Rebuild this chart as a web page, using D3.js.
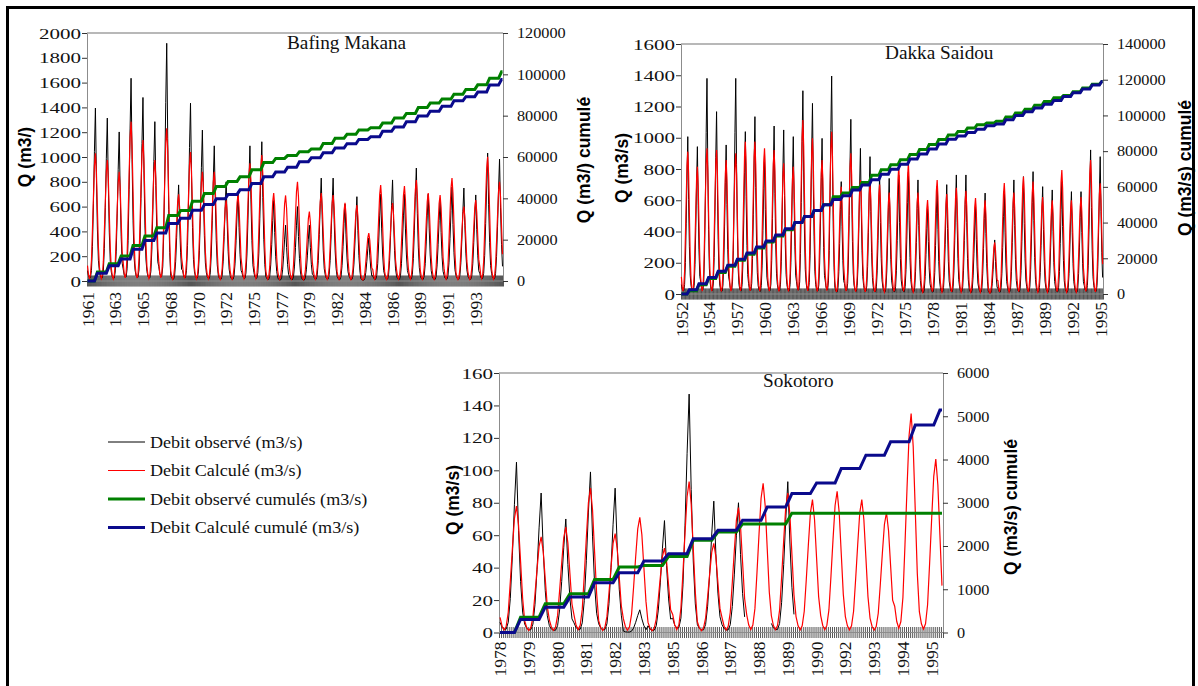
<!DOCTYPE html>
<html>
<head>
<meta charset="utf-8">
<script src="https://cdn.jsdelivr.net/npm/d3@7/dist/d3.min.js"></script>
<style>
  body { margin: 0; background: #fff; }
  text { font-family: 'Liberation Serif', 'Times New Roman', serif; fill: #111; }
  .axis-title { font-family: 'Liberation Sans', Arial, sans-serif; font-weight: bold; font-size: 17.5px; fill: #000; }
</style>
</head>
<body>
<svg id="chart" width="1198" height="686"></svg>
<script>
const bafingObsPeaks = [1395, 1314, 1202, 1635, 1480, 1285, 1917, 775, 1434, 1217,
  1090, 800, 720, 1090, 1123, 650, 450, 600, 450, 830,
  830, 620, 680, 347, 700, 815, 700, 911, 700, 650,
  758, 750, 694, 1032, 983];
const bafingCalcPeaks = [1030, 975, 880, 1285, 1137, 975, 1232, 700, 1040, 880,
  880, 650, 700, 950, 1016, 710, 690, 800, 560, 710,
  694, 630, 613, 387, 774, 629, 766, 815, 710, 694,
  830, 600, 653, 1002, 800];
// cumulated discharge at the end of each year (right axis)
const bafingObsCum = [4300, 8400, 12100, 17200, 21800, 25800, 31700, 34100, 38600, 42300,
  45700, 48200, 50400, 53800, 57300, 59300, 60700, 62600, 63900, 66500,
  69100, 71000, 73100, 74200, 76400, 78900, 81100, 83900, 86100, 88100,
  90400, 92700, 94900, 98100, 101200];
const bafingCalcCum = [3800, 7400, 10700, 15400, 19600, 23200, 27800, 30400, 34200, 37000,
  39800, 41900, 44100, 47200, 50400, 52700, 55000, 57700, 59600, 62000,
  64300, 66400, 68500, 69800, 72400, 74500, 77000, 79800, 82100, 84500,
  87200, 89200, 91400, 94800, 97500];
const bafingLabels = ['1961', '1963', '1965', '1968', '1970', '1972', '1975', '1977',
  '1979', '1982', '1984', '1986', '1989', '1991', '1993'];

const dakkaObsPeaks = [1007, 943, 1380, 1167, 954, 1380, 1039, 1135, 900, 1075,
  1050, 1007, 1301, 1220, 996, 1395, 719, 1118, 932, 879,
  762, 740, 760, 780, 730, 560, 690, 700, 762, 762,
  580, 646, 346, 660, 730, 751, 783, 687, 666, 720,
  655, 655, 922, 879];
const dakkaCalcPeaks = [911, 815, 932, 922, 858, 900, 975, 975, 932, 922,
  836, 815, 1114, 996, 858, 1039, 687, 900, 730, 708,
  700, 650, 815, 836, 650, 602, 730, 640, 680, 660,
  614, 600, 330, 710, 650, 751, 720, 620, 600, 794,
  600, 620, 858, 708];
const dakkaObsCum = [1800, 5200, 8700, 12100, 15500, 18900, 22300, 25700, 29100, 32500,
  36000, 40000, 43400, 46800, 50000, 54400, 56500, 59700, 62500, 66500,
  69600, 72400, 75200, 78100, 80900, 83700, 86500, 89100, 91000, 92900,
  94800, 95700, 96700, 99100, 101400, 103500, 105700, 107800, 109900, 111100,
  113200, 115300, 117500, 119000];
const dakkaCalcCum = [2400, 5800, 9300, 12700, 16100, 19500, 22900, 26300, 29700, 33100,
  36600, 40000, 43400, 46800, 50000, 52900, 55000, 58200, 61000, 64000,
  67100, 69900, 72700, 75600, 78400, 81200, 84000, 86600, 88500, 90400,
  92300, 94200, 95200, 97600, 99900, 102000, 104200, 106300, 108400, 110600,
  112700, 114800, 117000, 119000];
const dakkaLabels = ['1952', '1954', '1957', '1960', '1963', '1966', '1969', '1972',
  '1975', '1978', '1981', '1984', '1987', '1989', '1992', '1995'];

const sokotoroObsPeaks = [105, 86, 70, 99, 89, 14, 69, 147, 81, 80, null, 93,
  null, null, null, null, null, null];
const sokotoroCalcPeaks = [78, 59, 65, 89, 61, 71, 52, 93, 55, 77, 92, 86,
  82, 87, 82, 74, 135, 107];
const sokotoroObsCum = [354, 665, 896, 1228, 1513, 1552, 1760, 2131, 2323, 2510, 2510, 2760,
  2760, 2760, 2760, 2760, 2760, 2760];
const sokotoroCalcCum = [301, 586, 818, 1151, 1383, 1652, 1823, 2170, 2363, 2594, 2903, 3213,
  3459, 3791, 4100, 4408, 4795, 5142];
const sokotoroLabels = ['1978', '1979', '1980', '1981', '1982', '1983', '1985', '1986',
  '1987', '1988', '1989', '1990', '1992', '1993', '1994', '1995'];

// monthly share of the annual peak, Jan..Dec
const obsRegime = [0.06, 0.03, 0.02, 0.02, 0.06, 0.2, 0.45, 0.75, 1, 0.6, 0.3, 0.12];
const calcRegime = [0.12, 0.05, 0.02, 0.05, 0.16, 0.4, 0.66, 0.9, 1, 0.85, 0.56, 0.27];

const legendItems = ['Debit observé (m3/s)', 'Debit Calculé (m3/s)',
  'Debit observé cumulés (m3/s)', 'Debit Calculé cumulé (m3/s)'];

const colors = { obs: '#000000', calc: '#ff0000', obsCum: '#008000', calcCum: '#0a0a8c' };

const svg = d3.select('#chart');

svg.append('rect')
  .attr('x', 7.5).attr('y', 7.5)
  .attr('width', 1186).attr('height', 700)
  .attr('fill', 'none').attr('stroke', '#000').attr('stroke-width', 3);

const panels = [
  {
    title: 'Bafing Makana', obsPeaks: bafingObsPeaks, calcPeaks: bafingCalcPeaks,
    obsCum: bafingObsCum, calcCum: bafingCalcCum, labels: bafingLabels, labelStep: 28,
    x0: 87, x1: 503, yTop: 33, yBot: 281, yMax: 2000, yStep: 200, y2Max: 120000, y2Step: 20000,
    titlePos: [287, 49], labelGap: 11,
    yTitle: 'Q (m3/)', yTitlePos: [25, 157], y2Title: 'Q (m3/) cumulé', y2TitlePos: [584, 160],
  },
  {
    title: 'Dakka Saidou', obsPeaks: dakkaObsPeaks, calcPeaks: dakkaCalcPeaks,
    obsCum: dakkaObsCum, calcCum: dakkaCalcCum, labels: dakkaLabels, labelStep: 35,
    x0: 681, x1: 1103, yTop: 44, yBot: 294, yMax: 1600, yStep: 200, y2Max: 140000, y2Step: 20000,
    titlePos: [885, 59], labelGap: 8,
    yTitle: 'Q (m3/s)', yTitlePos: [622, 168], y2Title: 'Q (m3/s) cumulé', y2TitlePos: [1185, 168],
  },
  {
    title: 'Sokotoro', obsPeaks: sokotoroObsPeaks, calcPeaks: sokotoroCalcPeaks,
    obsCum: sokotoroObsCum, calcCum: sokotoroCalcCum, labels: sokotoroLabels, labelStep: 14,
    x0: 499, x1: 943, yTop: 373, yBot: 632.5, yMax: 160, yStep: 20, y2Max: 6000, y2Step: 1000,
    titlePos: [763, 387], labelGap: 9,
    yTitle: 'Q (m3/s)', yTitlePos: [453, 500], y2Title: 'Q (m3/s) cumulé', y2TitlePos: [1011, 507],
  },
];

const monthly = (peaks, regime) =>
  peaks.flatMap((pk) => regime.map((r) => (pk == null ? null : pk * r)));

// flat through the dry season, rising Aug -> Nov
const cumPoints = (cum) => {
  const pts = [[0, 0]];
  cum.forEach((v, i) => {
    pts.push([i * 12 + 7, i ? cum[i - 1] : 0], [i * 12 + 10, v]);
  });
  pts.push([cum.length * 12 - 1, cum[cum.length - 1]]);
  return pts;
};

function drawPanel(p) {
  const n = p.calcPeaks.length * 12;
  const x = d3.scaleBand().domain(d3.range(n)).range([p.x0, p.x1]);
  const xm = (i) => x(i) + x.bandwidth() / 2;
  const xEdge = d3.scaleLinear().domain([0, n]).range([p.x0, p.x1]);
  const y = d3.scaleLinear().domain([0, p.yMax]).range([p.yBot, p.yTop]);
  const y2 = d3.scaleLinear().domain([0, p.y2Max]).range([p.yBot, p.yTop]);

  const g = svg.append('g');

  // monthly tick marks crossing the category axis
  g.append('g')
    .attr('transform', `translate(0,${p.yBot - 5.5})`)
    .call(d3.axisBottom(xEdge).tickValues(d3.range(n + 1)).tickSize(11).tickFormat(''))
    .call((a) => a.select('.domain').remove())
    .selectAll('line')
    .attr('stroke', '#555');

  g.append('line')
    .attr('x1', p.x0).attr('x2', p.x1).attr('y1', p.yBot).attr('y2', p.yBot)
    .attr('stroke', '#8c8c8c');
  g.append('line')
    .attr('x1', p.x0).attr('x2', p.x1).attr('y1', p.yTop).attr('y2', p.yTop)
    .attr('stroke', '#a0a0a0').attr('stroke-width', 1.3);

  const left = g.append('g')
    .attr('transform', `translate(${p.x0},0)`)
    .call(d3.axisLeft(y).tickValues(d3.range(0, p.yMax + 1, p.yStep))
      .tickFormat(d3.format('d')).tickSize(5).tickSizeOuter(0))
    .attr('font-family', null).attr('font-size', null);
  left.select('.domain').attr('stroke', '#8c8c8c');
  left.selectAll('.tick line').attr('stroke', '#333');
  left.selectAll('.tick text')
    .attr('font-size', 15).attr('x', -6 / 1.4).attr('dy', '0.34em')
    .attr('transform', 'scale(1.4,1)');

  const right = g.append('g')
    .attr('transform', `translate(${p.x1},0)`)
    .call(d3.axisRight(y2).tickValues(d3.range(0, p.y2Max + 1, p.y2Step))
      .tickFormat(d3.format('d')).tickSize(5).tickSizeOuter(0))
    .attr('font-family', null).attr('font-size', null);
  right.select('.domain').attr('stroke', '#8c8c8c');
  right.selectAll('.tick line').attr('stroke', '#333');
  right.selectAll('.tick text')
    .attr('font-size', 14).attr('x', 14 / 1.16).attr('dy', '0.34em')
    .attr('transform', 'scale(1.16,1)');

  const line = d3.line()
    .defined((d) => d != null)
    .x((d, i) => xm(i))
    .y((d) => y(d));
  const cumLine = d3.line()
    .x((d) => xm(d[0]))
    .y((d) => y2(d[1]));

  g.append('path')
    .datum(monthly(p.obsPeaks, obsRegime))
    .attr('d', line)
    .attr('fill', 'none').attr('stroke', colors.obs).attr('stroke-width', 1);
  g.append('path')
    .datum(monthly(p.calcPeaks, calcRegime))
    .attr('d', line)
    .attr('fill', 'none').attr('stroke', colors.calc).attr('stroke-width', 1.2);
  g.append('path')
    .datum(cumPoints(p.obsCum))
    .attr('d', cumLine)
    .attr('fill', 'none').attr('stroke', colors.obsCum).attr('stroke-width', 3);
  g.append('path')
    .datum(cumPoints(p.calcCum))
    .attr('d', cumLine)
    .attr('fill', 'none').attr('stroke', colors.calcCum).attr('stroke-width', 3);

  g.append('text')
    .attr('transform', `translate(${p.titlePos[0]},${p.titlePos[1]}) scale(1.07,1)`)
    .attr('font-size', 18).attr('fill', '#222')
    .text(p.title);

  g.selectAll('.year')
    .data(p.labels)
    .join('text')
    .attr('class', 'year')
    .attr('transform', (d, k) => `translate(${xm(k * p.labelStep)},${p.yBot + p.labelGap}) rotate(-90)`)
    .attr('text-anchor', 'end').attr('dy', '0.35em').attr('font-size', 17.5)
    .text((d) => d);

  [[p.yTitle, p.yTitlePos], [p.y2Title, p.y2TitlePos]].forEach(([t, pos]) => {
    g.append('text')
      .attr('class', 'axis-title')
      .attr('transform', `translate(${pos[0]},${pos[1]}) rotate(-90)`)
      .attr('text-anchor', 'middle').attr('dy', '0.35em')
      .text(t);
  });
}

panels.forEach(drawPanel);

// legend
const legendColors = [colors.obs, colors.calc, colors.obsCum, colors.calcCum];
const legend = svg.append('g').attr('transform', 'translate(108,442)');
const rows = legend.selectAll('g')
  .data(legendItems)
  .join('g')
  .attr('transform', (d, i) => `translate(0,${i * 28.5})`);
rows.append('line')
  .attr('x1', 0).attr('x2', 37)
  .attr('stroke', (d, i) => legendColors[i])
  .attr('stroke-width', (d, i) => (i < 2 ? 1 : 3));
rows.append('text')
  .attr('transform', 'translate(42,0) scale(1.13,1)')
  .attr('dy', '0.35em').attr('font-size', 16)
  .text((d) => d);
</script>
</body>
</html>
